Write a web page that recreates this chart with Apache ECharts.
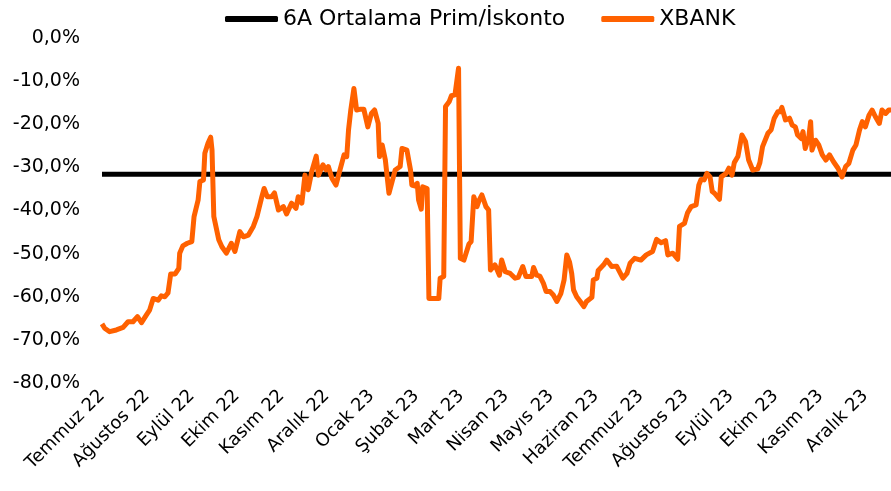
<!DOCTYPE html>
<html>
<head>
<meta charset="utf-8">
<script src="https://cdn.jsdelivr.net/npm/echarts@6/dist/echarts.min.js"></script>
<style>
  html, body { margin: 0; padding: 0; background: #fff; }
  #chart { width: 891px; height: 491px; }
</style>
</head>
<body>
<div id="chart"></div>
<script>
// month labels (x axis, one per month starting July 2022)
const monthLabels = ['Temmuz 22', 'Ağustos 22', 'Eylül 22', 'Ekim 22', 'Kasım 22', 'Aralık 22',
    'Ocak 23', 'Şubat 23', 'Mart 23', 'Nisan 23', 'Mayıs 23', 'Haziran 23',
    'Temmuz 23', 'Ağustos 23', 'Eylül 23', 'Ekim 23', 'Kasım 23', 'Aralık 23'];

// position of each reading, in months since start of July 2022
const xbankMonths = [0.00, 0.06, 0.17, 0.32, 0.47, 0.58, 0.69, 0.79, 0.88, 0.99,
    1.06, 1.14, 1.25, 1.32, 1.40, 1.47, 1.53, 1.63, 1.71, 1.73,
    1.80, 1.90, 2.00, 2.05, 2.14, 2.18, 2.26, 2.29, 2.36, 2.42,
    2.45, 2.49, 2.60, 2.67, 2.77, 2.88, 2.96, 3.07, 3.15, 3.26,
    3.37, 3.45, 3.56, 3.61, 3.68, 3.78, 3.84, 3.93, 4.04, 4.11,
    4.22, 4.32, 4.37, 4.45, 4.52, 4.59, 4.67, 4.77, 4.82, 4.92,
    4.99, 5.04, 5.12, 5.21, 5.30, 5.39, 5.45, 5.49, 5.54, 5.61,
    5.67, 5.76, 5.83, 5.92, 6.00, 6.07, 6.15, 6.18, 6.24, 6.31,
    6.39, 6.46, 6.53, 6.64, 6.68, 6.79, 6.87, 6.90, 6.96, 7.02,
    7.05, 7.11, 7.14, 7.24, 7.28, 7.39, 7.50, 7.53, 7.61, 7.65,
    7.73, 7.78, 7.86, 7.94, 7.98, 8.06, 8.17, 8.22, 8.28, 8.35,
    8.40, 8.46, 8.55, 8.61, 8.65, 8.75, 8.85, 8.90, 8.98, 9.09,
    9.20, 9.27, 9.37, 9.44, 9.57, 9.61, 9.68, 9.75, 9.83, 9.89,
    9.98, 10.05, 10.13, 10.22, 10.29, 10.35, 10.41, 10.46, 10.50, 10.57,
    10.65, 10.73, 10.79, 10.91, 10.94, 11.02, 11.05, 11.17, 11.24, 11.35,
    11.46, 11.60, 11.69, 11.76, 11.86, 12.00, 12.12, 12.26, 12.35, 12.45,
    12.55, 12.60, 12.71, 12.82, 12.86, 12.97, 13.04, 13.12, 13.23, 13.29,
    13.34, 13.41, 13.47, 13.54, 13.59, 13.64, 13.75, 13.79, 13.90, 13.96,
    14.03, 14.08, 14.16, 14.25, 14.33, 14.40, 14.49, 14.60, 14.65, 14.71,
    14.83, 14.90, 14.97, 15.05, 15.10, 15.14, 15.22, 15.31, 15.37, 15.44,
    15.49, 15.57, 15.61, 15.66, 15.74, 15.78, 15.81, 15.89, 15.96, 16.04,
    16.12, 16.20, 16.29, 16.39, 16.48, 16.56, 16.63, 16.72, 16.79, 16.87,
    16.93, 17.00, 17.08, 17.15, 17.22, 17.31, 17.37, 17.45, 17.52, 17.57];

// XBANK premium / discount, %
const xbankValues = [-66.3, -67.3, -68.1, -67.7, -67.1, -65.8, -65.8, -64.6, -66.0, -64.2,
    -63.1, -60.4, -60.8, -59.8, -60.0, -59.1, -54.7, -54.7, -53.4, -49.9,
    -48.2, -47.6, -47.2, -41.4, -37.6, -33.3, -32.9, -26.7, -24.4, -23.0,
    -26.0, -41.4, -46.8, -48.4, -49.9, -47.6, -49.5, -44.9, -46.1, -45.7,
    -43.7, -41.4, -36.8, -34.9, -36.8, -36.8, -35.9, -39.9, -39.1, -40.8,
    -38.3, -39.5, -36.8, -38.3, -31.8, -35.2, -31.0, -27.4, -31.8, -29.4,
    -30.6, -29.8, -32.5, -34.1, -30.6, -27.1, -27.5, -21.3, -16.7, -11.7,
    -16.7, -16.5, -16.5, -20.6, -17.5, -16.7, -19.8, -27.5, -24.8, -28.3,
    -36.0, -33.3, -30.6, -29.8, -25.6, -26.0, -30.6, -34.1, -34.3, -33.7,
    -37.6, -39.7, -34.5, -34.9, -60.4, -60.4, -60.4, -55.7, -55.3, -15.9,
    -14.8, -13.4, -13.2, -7.0, -51.1, -51.5, -47.8, -47.2, -36.8, -39.1,
    -37.6, -36.4, -39.1, -39.9, -53.8, -52.6, -55.0, -51.5, -54.2, -54.6,
    -55.7, -55.5, -53.0, -55.3, -55.3, -53.2, -55.0, -55.2, -56.9, -58.8,
    -58.8, -59.6, -61.1, -59.2, -56.1, -50.3, -51.9, -54.6, -58.4, -60.0,
    -61.1, -62.3, -61.1, -60.1, -56.1, -55.7, -53.9, -52.6, -51.5, -53.0,
    -52.9, -55.7, -54.6, -52.2, -51.1, -51.5, -50.3, -49.5, -46.7, -47.5,
    -47.0, -50.3, -49.9, -51.3, -43.7, -43.0, -40.5, -39.1, -38.7, -34.1,
    -32.8, -32.9, -31.4, -32.2, -35.6, -36.0, -37.4, -32.2, -31.4, -30.2,
    -31.8, -28.9, -27.5, -22.5, -24.0, -28.3, -30.6, -30.4, -28.9, -25.2,
    -22.1, -21.3, -18.6, -17.1, -17.1, -16.1, -19.0, -18.6, -20.2, -20.6,
    -22.5, -23.3, -21.7, -25.6, -22.9, -19.4, -26.0, -23.7, -24.8, -27.1,
    -28.3, -27.1, -28.7, -30.2, -32.2, -29.8, -29.1, -26.0, -24.8, -21.3,
    -19.4, -20.6, -17.9, -16.7, -18.2, -19.8, -16.7, -17.5, -16.7, -16.7];

// 6-month average premium / discount, %
const avgValue = -31.6;

const yTicks = [-80, -70, -60, -50, -40, -30, -20, -10, 0];

const fontFamily = 'DejaVu Sans';
const xStart = xbankMonths[0];
const xEnd = xbankMonths[xbankMonths.length - 1];

let chart = echarts.init(document.getElementById('chart'), null, {renderer: 'canvas'});
chart.setOption({
    animation: false,
    backgroundColor: '#fff',
    textStyle: {
        fontFamily: fontFamily
    },
    grid: {
        left: 102,
        right: 0,
        top: 38,
        bottom: 108
    },
    legend: {
        left: 220,
        top: 3,
        icon: 'roundRect',
        itemWidth: 53,
        itemHeight: 6,
        itemGap: 36,
        textStyle: {
            color: '#000',
            fontSize: 22,
            fontFamily: fontFamily
        },
        data: ['6A Ortalama Prim/İskonto', 'XBANK']
    },
    xAxis: {
        type: 'value',
        min: 0,
        max: xEnd,
        interval: 1,
        splitLine: { show: false },
        axisLine: { show: false },
        axisTick: { show: false },
        axisLabel: {
            rotate: 45,
            margin: 10,
            color: '#000',
            fontSize: 18,
            fontFamily: fontFamily,
            showMaxLabel: false,
            formatter: function (v) {
                return monthLabels[Math.round(v)] || '';
            }
        }
    },
    yAxis: {
        type: 'value',
        min: yTicks[0],
        max: yTicks[yTicks.length - 1],
        interval: 10,
        splitLine: { show: false },
        axisLine: { show: false },
        axisTick: { show: false },
        axisLabel: {
            margin: 22,
            color: '#000',
            fontSize: 19,
            fontFamily: fontFamily,
            formatter: function (v) {
                return v.toFixed(1).replace('.', ',') + '%';
            }
        }
    },
    series: [
        {
            name: '6A Ortalama Prim/İskonto',
            type: 'line',
            symbol: 'none',
            color: '#000',
            lineStyle: { width: 5, color: '#000' },
            data: [[xStart, avgValue], [xEnd, avgValue]]
        },
        {
            name: 'XBANK',
            type: 'line',
            symbol: 'none',
            color: '#ff6100',
            lineStyle: { width: 5, color: '#ff6100', join: 'round' },
            data: xbankMonths.map(function (m, i) { return [m, xbankValues[i]]; })
        }
    ]
});
</script>
</body>
</html>
